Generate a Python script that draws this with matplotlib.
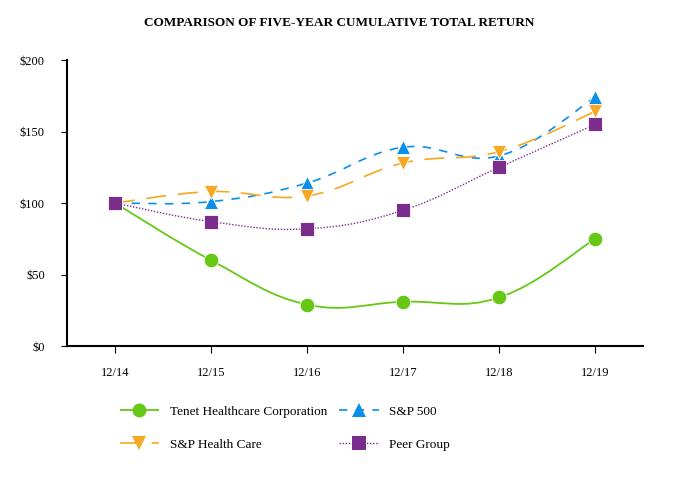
import matplotlib
matplotlib.use("Agg")
import matplotlib.pyplot as plt
from matplotlib.path import Path
import matplotlib.patches as patches
from matplotlib.lines import Line2D
from matplotlib.ticker import FuncFormatter

plt.rcParams['font.family'] = ['Liberation Serif', 'DejaVu Serif']

years = ["12/14", "12/15", "12/16", "12/17", "12/18", "12/19"]
tenet = [100, 60, 29, 31, 34, 75]
sp500 = [100, 101, 114, 139, 133, 174]
sp_health = [100, 108, 105, 128, 136, 164]
peer = [100, 87, 82, 95, 125, 155]

series = [
    ("Tenet Healthcare Corporation", tenet, "#66c814", "o", (0, ()), 1.3),
    ("S&P 500", sp500, "#0b8fea", "^", (0, (5, 5)), 1.2),
    ("S&P Health Care", sp_health, "#f7a823", "v", (0, (12, 7)), 1.2),
    ("Peer Group", peer, "#7b2d8e", "s", (0, (1, 1.2)), 1.0),
]


def smooth_path(xs, ys, tension=0.2):
    # catmull-rom style bezier through the points
    verts = [(xs[0], ys[0])]
    codes = [Path.MOVETO]
    n = len(xs)
    for i in range(n - 1):
        x0, y0 = (xs[i - 1], ys[i - 1]) if i > 0 else (xs[i], ys[i])
        x1, y1 = xs[i], ys[i]
        x2, y2 = xs[i + 1], ys[i + 1]
        x3, y3 = (xs[i + 2], ys[i + 2]) if i + 2 < n else (x2, y2)
        c1 = (x1 + (x2 - x0) * tension, y1 + (y2 - y0) * tension)
        c2 = (x2 - (x3 - x1) * tension, y2 - (y3 - y1) * tension)
        verts += [c1, c2, (x2, y2)]
        codes += [Path.CURVE4] * 3
    return Path(verts, codes)


fig = plt.figure(figsize=(6.78, 4.80), dpi=100)
ax = fig.add_axes([0.0988, 0.279, 0.85, 0.596])

xs = list(range(len(years)))
handles = []
for name, vals, color, marker, ls, lw in series:
    p = patches.PathPatch(smooth_path(xs, vals), facecolor="none", edgecolor=color,
                          linewidth=lw, linestyle=ls, zorder=2)
    ax.add_patch(p)
    ax.plot(xs, vals, linestyle="none", marker=marker, markersize=10.5,
            color=color, markeredgecolor="white", markeredgewidth=0.6, zorder=3)
    handles.append(Line2D([], [], color=color, linestyle=ls, linewidth=lw,
                          marker=marker, markersize=10, markeredgewidth=0))

ax.set_xlim(-0.5, 5.5)
ax.set_ylim(0, 200)
ax.set_xticks(xs)
ax.set_xticklabels(years)
ax.set_yticks([0, 50, 100, 150, 200])
ax.yaxis.set_major_formatter(FuncFormatter(lambda v, p: "${:.0f}".format(v)))
for s in ["top", "right"]:
    ax.spines[s].set_visible(False)
for s in ["left", "bottom"]:
    ax.spines[s].set_linewidth(1.5)
ax.tick_params(axis="x", length=5, width=0.8, pad=10, labelsize=9)
ax.tick_params(axis="y", length=4, width=0.8, pad=12, labelsize=9)

fig.text(0.5, 0.953, "COMPARISON OF FIVE-YEAR CUMULATIVE TOTAL RETURN",
         ha="center", va="center", fontsize=9.5, fontweight="bold")

order = [0, 2, 1, 3]
leg = fig.legend([handles[i] for i in order], [series[i][0] for i in order],
                 loc="upper left", bbox_to_anchor=(0.159, 0.18), ncol=2,
                 frameon=False, fontsize=9.5, handlelength=3.0,
                 columnspacing=0.9, labelspacing=1.6, handletextpad=0.8)

fig.savefig("out.png", dpi=100)
